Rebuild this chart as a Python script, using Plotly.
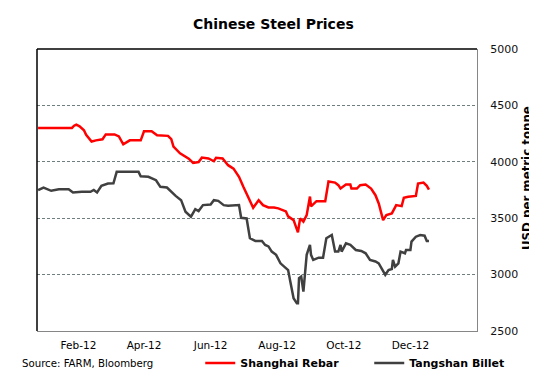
import plotly.graph_objects as go

# ---- data ----
rebar_dates = [
    "2011-12-26", "2012-01-26", "2012-01-28", "2012-01-30", "2012-02-02", "2012-02-06",
    "2012-02-08", "2012-02-13", "2012-02-17", "2012-02-23", "2012-02-26", "2012-03-05",
    "2012-03-09", "2012-03-13", "2012-03-19", "2012-03-29", "2012-04-01", "2012-04-08",
    "2012-04-13", "2012-04-23", "2012-04-26", "2012-04-28", "2012-05-04", "2012-05-12",
    "2012-05-16", "2012-05-21", "2012-05-24", "2012-05-30", "2012-06-04", "2012-06-06",
    "2012-06-12", "2012-06-17", "2012-06-22", "2012-06-27", "2012-07-01", "2012-07-06",
    "2012-07-10", "2012-07-15", "2012-07-19", "2012-07-24", "2012-07-29", "2012-08-02",
    "2012-08-09", "2012-08-11", "2012-08-16", "2012-08-20", "2012-08-22", "2012-08-25",
    "2012-08-28", "2012-08-31", "2012-09-01", "2012-09-06", "2012-09-14", "2012-09-17",
    "2012-09-23", "2012-09-26", "2012-09-28", "2012-10-03", "2012-10-07", "2012-10-08",
    "2012-10-13", "2012-10-16", "2012-10-21", "2012-10-26", "2012-10-30", "2012-11-02",
    "2012-11-06", "2012-11-09", "2012-11-14", "2012-11-18", "2012-11-23", "2012-11-25",
    "2012-11-29", "2012-12-06", "2012-12-08", "2012-12-13", "2012-12-16", "2012-12-18",
]
rebar_values = [
    4300, 4300, 4320, 4330, 4315, 4280,
    4240, 4180, 4190, 4200, 4243, 4243,
    4225, 4155, 4190, 4190, 4270, 4270,
    4235, 4230, 4200, 4135, 4075, 4028,
    3990, 3998, 4037, 4030, 4005, 4035,
    4030, 3970, 3940, 3867, 3778, 3675,
    3593, 3660, 3616, 3595, 3595, 3587,
    3560, 3516, 3483, 3375, 3498, 3470,
    3527, 3692, 3604, 3651, 3651, 3825,
    3816, 3793, 3763, 3798, 3798, 3763,
    3763, 3793, 3798, 3763, 3704, 3631,
    3483, 3527, 3543, 3616, 3607, 3681,
    3690, 3698, 3807, 3816, 3787, 3754,
]

billet_dates = [
    "2011-12-26", "2011-12-31", "2012-01-07", "2012-01-14", "2012-01-23", "2012-01-27",
    "2012-02-04", "2012-02-12", "2012-02-15", "2012-02-18", "2012-02-22", "2012-02-28",
    "2012-03-04", "2012-03-07", "2012-03-27", "2012-03-29", "2012-04-05", "2012-04-12",
    "2012-04-16", "2012-04-22", "2012-04-30", "2012-05-05", "2012-05-09", "2012-05-14",
    "2012-05-18", "2012-05-21", "2012-05-25", "2012-06-01", "2012-06-04", "2012-06-08",
    "2012-06-13", "2012-06-17", "2012-06-27", "2012-06-29", "2012-07-04", "2012-07-07",
    "2012-07-12", "2012-07-18", "2012-07-21", "2012-07-24", "2012-07-27", "2012-07-31",
    "2012-08-04", "2012-08-07", "2012-08-11", "2012-08-13", "2012-08-16", "2012-08-19",
    "2012-08-20", "2012-08-21", "2012-08-23", "2012-08-25", "2012-08-28", "2012-08-31",
    "2012-09-01", "2012-09-03", "2012-09-08", "2012-09-12", "2012-09-15", "2012-09-20",
    "2012-09-23", "2012-09-26", "2012-09-28", "2012-09-29", "2012-10-03", "2012-10-07",
    "2012-10-12", "2012-10-17", "2012-10-21", "2012-10-25", "2012-10-30", "2012-11-02",
    "2012-11-06", "2012-11-08", "2012-11-11", "2012-11-14", "2012-11-15", "2012-11-17",
    "2012-11-20", "2012-11-22", "2012-11-26", "2012-11-27", "2012-12-01", "2012-12-02",
    "2012-12-06", "2012-12-10", "2012-12-14", "2012-12-16", "2012-12-18",
]
billet_values = [
    3748, 3772, 3743, 3757, 3757, 3728,
    3734, 3734, 3750, 3728, 3787, 3807,
    3810, 3911, 3911, 3872, 3867, 3837,
    3778, 3772, 3698, 3660, 3557, 3513,
    3580, 3563, 3616, 3622, 3660, 3654,
    3616, 3610, 3616, 3504, 3498, 3322,
    3298, 3298, 3263, 3250, 3204, 3175,
    3100, 3071, 3040, 2938, 2790, 2745,
    2745, 2968, 2983, 2850, 3175, 3263,
    3175, 3130, 3150, 3150, 3322, 3351,
    3204, 3204, 3263, 3204, 3277, 3263,
    3218, 3210, 3189, 3130, 3116, 3100,
    3027, 2998, 3040, 3050, 3130, 3071,
    3100, 3204, 3189, 3218, 3218, 3292,
    3336, 3351, 3345, 3298, 3298,
]

tick_dates = ["2012-02-01", "2012-04-01", "2012-06-01", "2012-08-01", "2012-10-01", "2012-12-01"]
tick_labels = ["Feb-12", "Apr-12", "Jun-12", "Aug-12", "Oct-12", "Dec-12"]
y_ticks = [2500, 3000, 3500, 4000, 4500, 5000]

FONT = "DejaVu Sans"

fig = go.Figure()
fig.add_trace(go.Scatter(
    x=rebar_dates, y=rebar_values, mode="lines", name="Shanghai Rebar",
    line=dict(color="#ff0000", width=2.5),
))
fig.add_trace(go.Scatter(
    x=billet_dates, y=billet_values, mode="lines", name="Tangshan Billet",
    line=dict(color="#404040", width=2.5),
))

fig.update_layout(
    width=537, height=376,
    margin=dict(l=29, r=68, t=41, b=53, autoexpand=False),
    paper_bgcolor="white", plot_bgcolor="white",
    font=dict(family=FONT, color="#000000"),
    showlegend=True,
    legend=dict(
        orientation="h", x=0.371, xanchor="left", y=-0.1135, yanchor="middle",
        font=dict(family=FONT, size=11, color="#000000", weight="bold"),
        entrywidth=124, entrywidthmode="pixels",
        bgcolor="rgba(0,0,0,0)", borderwidth=0,
        itemwidth=30, tracegroupgap=0,
    ),
    xaxis=dict(
        type="date", range=["2011-12-25", "2013-01-31"],
        tickvals=tick_dates, ticktext=tick_labels,
        showgrid=False, zeroline=False,
        showline=True, linecolor="#868686", linewidth=1,
        ticks="", tickfont=dict(family=FONT, size=10.5, color="#000000"),
        ticklabelstandoff=4,
    ),
    yaxis=dict(
        side="right", range=[2500, 5000], tickvals=y_ticks,
        showgrid=True, gridcolor="#6f7f7f", gridwidth=1, griddash="3px,2px",
        zeroline=False,
        showline=True, linecolor="#868686", linewidth=1,
        ticks="", tickfont=dict(family=FONT, size=11, color="#111111"),
        ticklabelstandoff=10,
    ),
    shapes=[
        dict(type="line", xref="paper", yref="paper", x0=0, x1=1, y0=1, y1=1,
             line=dict(color="#000000", width=1.5), layer="above"),
        dict(type="line", xref="paper", yref="paper", x0=0, x1=0, y0=0, y1=1,
             line=dict(color="#000000", width=1.5), layer="above"),
    ],
    annotations=[
        dict(text="<b>Chinese Steel Prices</b>", xref="paper", yref="paper",
             x=(265 - 29) / 440, y=1 + (41 - 16) / 282, xanchor="center", yanchor="middle",
             showarrow=False, font=dict(family=FONT, size=14, color="#000000")),
        dict(text="<b>USD per metric tonne</b>", xref="paper", yref="paper",
             x=(519 - 29) / 440, y=(323 - 170) / 282, xanchor="center", yanchor="middle",
             textangle=-90, showarrow=False,
             font=dict(family=FONT, size=11.8, color="#000000")),
        dict(text="Source: FARM, Bloomberg", xref="paper", yref="paper",
             x=(12 - 29) / 440, y=(323 - 355) / 282, xanchor="left", yanchor="middle",
             showarrow=False, font=dict(family=FONT, size=10.2, color="#000000")),
    ],
)

fig.write_html("out.html")
